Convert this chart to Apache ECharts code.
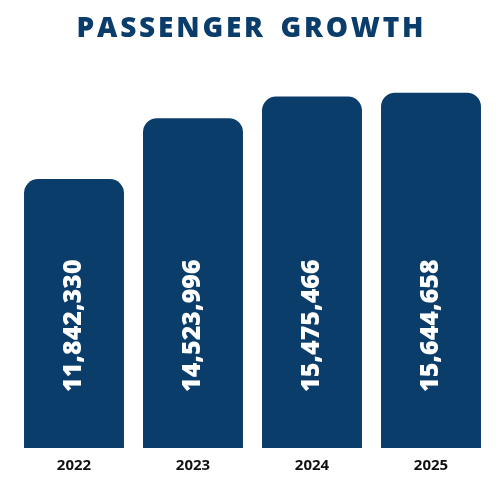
<!DOCTYPE html>
<html><head><meta charset="utf-8">
<script src="https://cdn.jsdelivr.net/npm/echarts@6/dist/echarts.min.js"></script>
<style>html,body{margin:0;padding:0;background:#fff}#c{width:500px;height:492px}</style>
</head><body><div id="c"></div>
<script>
const categories = ['2022','2023','2024','2025'];
const passengers = [11842330, 14523996, 15475466, 15644658];
const chart = echarts.init(document.getElementById('c'));
chart.setOption({
  animation:false,
  title:{text:'P A S S E N G E R   G R O W T H'.replace(/ (?! )/g,'\u200A').replace(/   /g,'\u2009 '),left:'center',top:10,textStyle:{fontFamily:'Open Sans',fontWeight:800,fontSize:28,color:'#0b3d6b'}},
  grid:{left:14.5,right:9.5,top:62,bottom:44},
  xAxis:{type:'category',data:categories,axisLine:{show:false},axisTick:{show:false},
    axisLabel:{margin:10,fontFamily:'Open Sans',fontWeight:'bold',fontSize:15,color:'#111'}},
  yAxis:{type:'value',min:0,max:17000000,show:false,splitLine:{show:false}},
  series:[{type:'bar',data:passengers,barCategoryGap:'16%',
    itemStyle:{color:'#0b3d6b',borderRadius:[14,14,0,0]},
    label:{show:true,position:'insideBottom',distance:56,rotate:90,align:'left',verticalAlign:'middle',
      formatter:p=>p.value.toLocaleString('en-US'),color:'#fff',fontFamily:'Open Sans',fontWeight:800,fontSize:25}}]
});
</script></body></html>
